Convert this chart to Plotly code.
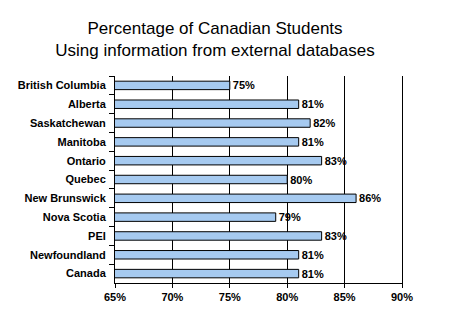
import plotly.graph_objects as go

categories = ["British Columbia", "Alberta", "Saskatchewan", "Manitoba", "Ontario",
              "Quebec", "New Brunswick", "Nova Scotia", "PEI", "Newfoundland", "Canada"]
values = [75, 81, 82, 81, 83, 80, 86, 79, 83, 81, 81]
labels = [f"{v}%" for v in values]
tick_vals = [65, 70, 75, 80, 85, 90]
tick_text = ["65%", "70%", "75%", "80%", "85%", "90%"]

FONT = "Liberation Sans, Arial, sans-serif"

fig = go.Figure(go.Bar(
    y=categories, x=values, orientation="h",
    marker=dict(color="#A6CAF0", line=dict(color="black", width=1)),
    text=labels, textposition="outside", constraintext="none",
    textfont=dict(family=FONT, size=11, color="black", weight="bold"),
    cliponaxis=False,
))

fig.update_layout(
    width=455, height=324,
    margin=dict(l=115, r=53, t=76, b=41),
    paper_bgcolor="white", plot_bgcolor="white",
    showlegend=False,
    bargap=0.55,
    title=dict(
        text="Percentage of Canadian Students<br>Using information from external databases",
        font=dict(family=FONT, size=17, color="black"),
        x=215/455, xanchor="center", xref="container",
        y=1 - 34/324, yanchor="top", yref="container",
    ),
    xaxis=dict(
        range=[65, 90], tickmode="array", tickvals=tick_vals, ticktext=tick_text,
        showgrid=True, gridcolor="black", gridwidth=1,
        showline=True, linecolor="black", linewidth=1,
        ticks="outside", ticklen=4, tickcolor="black",
        tickfont=dict(family=FONT, size=11, color="black", weight="bold"),
        zeroline=False, fixedrange=True,
    ),
    yaxis=dict(
        autorange="reversed",
        showline=True, linecolor="black", linewidth=1, mirror=True,
        ticks="outside", ticklen=5, tickcolor="black", tickson="boundaries",
        tickfont=dict(family=FONT, size=11, color="black", weight="bold"),
        showgrid=False, fixedrange=True, ticklabelstandoff=6,
    ),
)

fig.write_html("out.html")
